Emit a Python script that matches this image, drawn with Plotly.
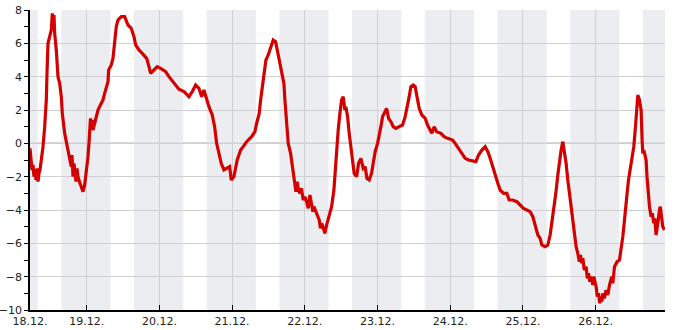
import datetime as dt
import plotly.graph_objects as go

# ---- data (hours since 18.12. 00:00, temperature in °C) ----
hours = [5.28, 5.61, 5.94, 6.27, 6.60, 6.93, 7.26, 7.59, 7.92, 8.25, 8.58, 9.01, 9.57, 10.13, 10.66, 10.89,
         11.22, 11.78, 12.31, 12.64, 12.87, 13.2, 13.43, 13.96, 14.52, 15.08, 15.61, 15.94, 16.73, 17.59,
         18.38, 18.91, 19.14, 19.47, 19.8, 20.03, 20.46, 20.79, 21.12, 21.62, 22.21, 22.77, 23.33, 23.86,
         24.42, 24.75, 24.98, 25.25, 25.58, 25.74, 26.07, 26.63, 27.16, 27.72, 28.81, 29.37, 29.93, 30.46,
         31.02, 31.25, 32.11, 32.67, 33.0, 33.43, 33.76, 34.32, 35.41, 36.53, 37.06, 37.62, 38.71, 39.6,
         40.16, 41.25, 42.34, 43.79, 44.55, 45.11, 46.2, 47.29, 48.41, 50.06, 51.15, 52.8, 54.45, 56.1,
         57.75, 58.84, 59.96, 61.05, 61.94, 62.7, 63.59, 64.35, 65.44, 66.23, 66.89, 67.65, 68.41, 69.3,
         70.39, 71.18, 71.71, 72.6, 73.69, 74.81, 75.67, 76.79, 78.44, 79.53, 80.09, 80.95, 81.41, 81.94,
         82.5, 83.16, 83.92, 84.71, 85.57, 86.36, 86.89, 87.78, 88.54, 89.1, 89.43, 89.99, 90.52, 91.31,
         91.64, 92.17, 92.73, 93.06, 93.49, 93.89, 94.38, 94.88, 95.47, 96.03, 96.59, 97.12, 97.68, 98.24,
         98.67, 99.0, 99.89, 100.75, 101.15, 101.54, 102.14, 102.63, 103.19, 104.05, 104.84, 105.6, 106.16,
         106.49, 107.02, 107.58, 108.14, 108.67, 109.23, 109.56, 110.12, 110.65, 111.21, 111.77, 112.3,
         113.09, 113.75, 114.51, 115.27, 115.93, 116.49, 117.25, 118.04, 118.57, 119.23, 120.02, 120.55,
         121.11, 121.67, 122.53, 122.99, 123.65, 124.41, 125.17, 126.06, 127.15, 128.27, 129.13, 129.92,
         130.45, 131.01, 131.77, 132.43, 132.99, 133.75, 134.64, 135.73, 136.52, 137.28, 137.94, 138.70,
         139.49, 140.91, 142.0, 143.12, 144.77, 145.63, 146.75, 147.84, 148.93, 150.05, 151.14, 152.46,
         153.35, 154.44, 155.53, 156.42, 157.18, 157.97, 158.83, 159.72, 160.48, 161.6, 162.69, 163.45,
         164.57, 165.99, 167.08, 168.2, 169.29, 170.38, 171.27, 172.03, 172.92, 173.68, 174.24, 175.33,
         176.22, 176.98, 177.54, 178.1, 178.86, 179.52, 180.08, 180.61, 181.17, 181.73, 182.26, 182.82,
         183.38, 183.91, 184.47, 185.03, 185.56, 186.12, 186.62, 187.01, 187.44, 187.77, 188.27, 188.86,
         189.26, 189.65, 190.08, 190.51, 191.07, 191.4, 192.16, 192.56, 192.95, 193.38, 193.61, 194.04,
         194.37, 194.87, 195.46, 196.02, 196.58, 197.34, 197.67, 198.23, 199.09, 199.88, 200.41, 200.97,
         201.53, 201.86, 202.39, 202.85, 203.51, 203.94, 204.6, 205.16, 205.59, 205.92, 206.48, 206.75,
         207.01, 207.34, 207.57, 207.9, 208.66, 208.96, 209.22, 209.78, 210.31, 210.71, 211.2, 211.53,
         211.96, 212.19, 212.52, 213.08, 213.35, 213.61, 214.17, 214.73]
temps = [-0.3, -1.0, -1.6, -1.3, -2.0, -1.6, -2.2, -1.5, -2.3, -1.8, -1.6, -1.0, -0.2, 1.0, 2.6, 4.2,
         6.0, 6.4, 6.8, 7.8, 7.3, 7.7, 6.6, 5.6, 4.0, 3.6, 2.8, 1.8, 0.6, -0.2,
         -1.0, -1.4, -0.7, -2.0, -1.2, -1.8, -2.3, -1.5, -2.0, -2.3, -2.6, -2.9, -2.5, -1.8,
         -0.8, 0.0, 1.0, 1.5, 0.9, 1.4, 0.8, 1.2, 1.6, 2.0, 2.4, 2.6, 3.0, 3.3,
         3.7, 4.4, 4.7, 5.1, 5.6, 6.2, 7.0, 7.4, 7.6, 7.6, 7.3, 7.1, 6.9, 6.4,
         5.9, 5.6, 5.4, 5.1, 4.6, 4.2, 4.4, 4.6, 4.5, 4.3, 4.0, 3.6, 3.25, 3.1,
         2.8, 3.1, 3.5, 3.3, 2.8, 3.2, 2.6, 2.2, 1.7, 1.0, 0.0, -0.6, -1.2, -1.6,
         -1.5, -1.4, -2.2, -2.0, -1.0, -0.4, -0.2, 0.1, 0.4, 0.7, 1.2, 1.8, 2.6, 3.4,
         4.4, 5.0, 5.3, 5.8, 6.2, 6.1, 5.6, 4.9, 4.3, 3.6, 2.6, 1.0, 0.0, -0.6,
         -1.0, -1.8, -2.3, -2.9, -2.3, -2.8, -3.0, -2.7, -3.4, -3.2, -3.5, -3.9, -3.1, -3.6,
         -4.1, -3.8, -4.2, -4.6, -5.1, -4.8, -5.1, -5.4, -4.9, -4.4, -3.8, -2.8, -1.4,
         -0.2, 0.8, 1.8, 2.6, 2.8, 2.0, 2.2, 1.6, 0.6, -0.2, -1.2, -1.8,
         -2.0, -1.2, -0.9, -1.5, -1.4, -2.1, -2.2, -1.8, -1.2, -0.5, 0.0, 0.4,
         1.0, 1.6, 1.9, 2.1, 1.5, 1.3, 1.0, 0.9, 1.0, 1.1, 1.6, 2.2,
         2.8, 3.4, 3.5, 3.4, 2.8, 2.1, 1.7, 1.5, 1.1, 0.8, 0.6, 1.0,
         0.7, 0.6, 0.4, 0.3, 0.2, 0.0, -0.3, -0.6, -0.9, -1.0, -1.05, -1.1,
         -0.7, -0.4, -0.2, -0.5, -0.9, -1.4, -2.0, -2.4, -2.8, -3.0, -3.0, -3.4,
         -3.4, -3.5, -3.7, -3.9, -4.0, -4.1, -4.4, -5.0, -5.5, -5.7, -6.1, -6.2,
         -6.1, -5.5, -4.8, -4.0, -3.0, -1.9, -1.0, -0.4, 0.1, -0.5, -1.2, -2.2,
         -3.0, -3.8, -4.8, -5.4, -6.2, -6.6, -7.1, -6.7, -7.2, -6.9, -7.6, -7.4,
         -8.1, -7.8, -8.3, -8.0, -8.5, -8.0, -8.6, -9.2, -9.0, -9.6, -9.2, -9.5,
         -9.0, -9.3, -8.8, -9.1, -8.5, -8.0, -8.4, -7.4, -7.1, -7.0, -6.4, -5.6,
         -4.6, -3.8, -3.0, -2.2, -1.4, -0.8, -0.2, 1.0, 2.6, 2.9, 2.6, 2.2,
         2.0, 0.2, -0.6, -0.4, -1.0, -2.0, -2.8, -3.8, -4.4, -4.2, -4.8, -4.5,
         -5.5, -5.0, -4.8, -4.0, -3.8, -4.2, -5.0, -5.2]

day_labels = ["18.12.", "19.12.", "20.12.", "21.12.", "22.12.", "23.12.", "24.12.", "25.12.", "26.12."]
sunrise_h = 7.85   # end of shaded night band (hour of day)
sunset_h = 15.6    # start of shaded night band (hour of day)
range_hours = [5.28, 214.9]

base = dt.datetime(2010, 12, 18)
xs = [base + dt.timedelta(hours=h) for h in hours]
x0 = base + dt.timedelta(hours=range_hours[0])
x1 = base + dt.timedelta(hours=range_hours[1])

fig = go.Figure()
fig.add_trace(go.Scatter(x=xs, y=temps, mode="lines",
                         line=dict(color="#d40000", width=3.2), showlegend=False))

shapes = []
# zero line drawn underneath the night bands
shapes.append(dict(type="line", xref="paper", yref="y", x0=0, x1=1, y0=0, y1=0,
                   line=dict(color="black", width=1), layer="below"))
band_style = dict(type="rect", xref="x", yref="paper", y0=0, y1=1,
                  fillcolor="rgb(227,228,235)", opacity=0.68, line=dict(width=0), layer="between")
shapes.append(dict(band_style, x0=x0, x1=base + dt.timedelta(hours=sunrise_h)))
for d in range(9):
    s = base + dt.timedelta(days=d, hours=sunset_h)
    e = base + dt.timedelta(days=d + 1, hours=sunrise_h)
    if s >= x1:
        break
    shapes.append(dict(band_style, x0=s, x1=min(e, x1)))

tickvals = [x0] + [base + dt.timedelta(days=d) for d in range(1, 9)]

fig.update_layout(
    width=685, height=330,
    margin=dict(l=30, r=20, t=10, b=20, autoexpand=False),
    paper_bgcolor="white", plot_bgcolor="white",
    shapes=shapes,
    font=dict(family="DejaVu Sans", size=11, color="#222"),
    xaxis=dict(type="date", range=[x0, x1], tickvals=tickvals, ticktext=day_labels,
               automargin=False,
               showgrid=True, gridcolor="#cfcfd4", gridwidth=1,
               showline=True, linecolor="black", linewidth=1.5,
               ticks="inside", ticklen=5, tickcolor="black", zeroline=False),
    yaxis=dict(range=[-10, 8], dtick=2, tick0=0, automargin=False,
               showgrid=True, gridcolor="#cfcfd4", gridwidth=1,
               showline=True, linecolor="black", linewidth=1.5,
               ticks="outside", ticklen=4, tickcolor="black",
               minor=dict(dtick=1, ticks="outside", ticklen=4, tickcolor="black", showgrid=False),
               zeroline=False),
)
fig.write_html("out.html")
